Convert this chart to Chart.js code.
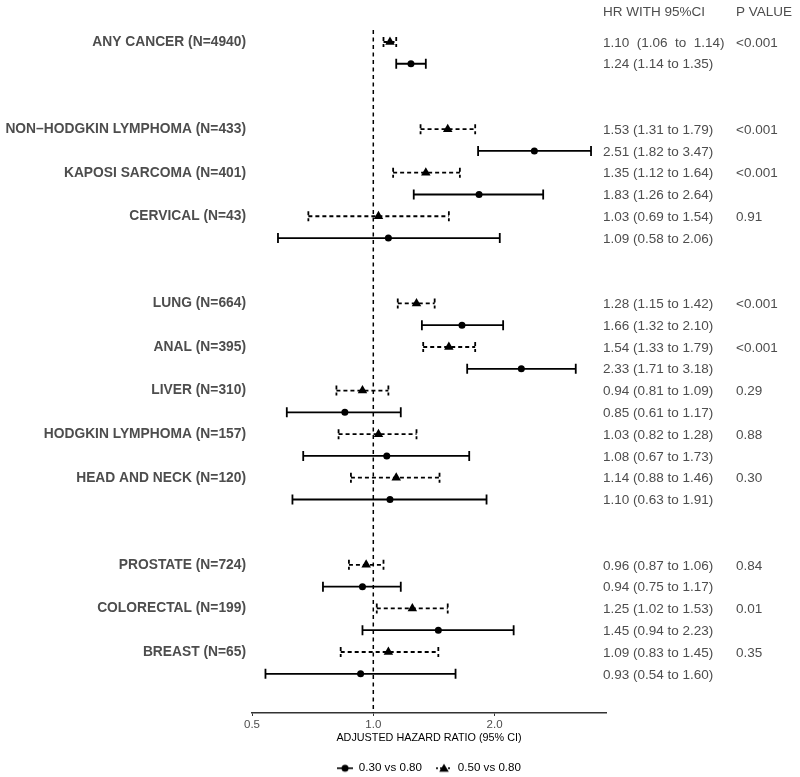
<!DOCTYPE html>
<html>
<head>
<meta charset="utf-8">
<title>Cancer risk forest plot</title>
<script src="https://cdn.jsdelivr.net/npm/chart.js@4.4.1/dist/chart.umd.min.js"></script>
<style>
  html, body { margin: 0; padding: 0; background: #fff; }
  #wrap { width: 800px; height: 777px; }
</style>
</head>
<body>
<div id="wrap"><canvas id="forestChart"></canvas></div>
<script>
// categories and the row each one sits on (0 = top)
const categories = ['ANY CANCER (N=4940)', 'NON\u2013HODGKIN LYMPHOMA (N=433)', 'KAPOSI SARCOMA (N=401)', 'CERVICAL (N=43)',
    'LUNG (N=664)', 'ANAL (N=395)', 'LIVER (N=310)', 'HODGKIN LYMPHOMA (N=157)', 'HEAD AND NECK (N=120)',
    'PROSTATE (N=724)', 'COLORECTAL (N=199)', 'BREAST (N=65)'];
const labelRows = [0, 4, 6, 8, 12, 14, 16, 18, 20, 24, 26, 28];

// 0.50 vs 0.80 (triangles, dashed)
const hr50 = [1.10, 1.53, 1.35, 1.03, 1.28, 1.54, 0.94, 1.03, 1.14, 0.96, 1.25, 1.09];
const lo50 = [1.06, 1.31, 1.12, 0.69, 1.15, 1.33, 0.81, 0.82, 0.88, 0.87, 1.02, 0.83];
const hi50 = [1.14, 1.79, 1.64, 1.54, 1.42, 1.79, 1.09, 1.28, 1.46, 1.06, 1.53, 1.45];

// 0.30 vs 0.80 (circles, solid)
const hr30 = [1.24, 2.51, 1.83, 1.09, 1.66, 2.33, 0.85, 1.08, 1.10, 0.94, 1.45, 0.93];
const lo30 = [1.14, 1.82, 1.26, 0.58, 1.32, 1.71, 0.61, 0.67, 0.63, 0.75, 0.94, 0.54];
const hi30 = [1.35, 3.47, 2.64, 2.06, 2.10, 3.18, 1.17, 1.73, 1.91, 1.17, 2.23, 1.60];

const pValues = ['<0.001', '<0.001', '<0.001', '0.91', '<0.001', '<0.001', '0.29', '0.88', '0.30', '0.84', '0.01', '0.35'];
const xTicks = [0.5, 1.0, 2.0];

const FONT = "'Liberation Sans', Arial, Helvetica, sans-serif";
const GREY = '#4d4d4d';
Chart.defaults.font.family = FONT;

const series = [
    { hr: hr30, lo: lo30, hi: hi30, offset: 1, dash: [] },
    { hr: hr50, lo: lo50, hi: hi50, offset: 0, dash: [4, 3] }
];

function fmt(i, s) {
    const sep = i === 0 && s.offset === 0 ? '  ' : ' ';
    return s.hr[i].toFixed(2) + sep + '(' + s.lo[i].toFixed(2) + sep + 'to' + sep + s.hi[i].toFixed(2) + ')';
}

// legend icons: line + marker
function makeIcon(kind) {
    const c = document.createElement('canvas');
    c.width = 16; c.height = 12;
    const g = c.getContext('2d');
    g.strokeStyle = '#000';
    g.fillStyle = '#000';
    g.lineWidth = 1.6;
    if (kind === 'triangle') g.setLineDash([2, 2]);
    g.beginPath(); g.moveTo(0, 6); g.lineTo(16, 6); g.stroke();
    g.setLineDash([]);
    g.beginPath();
    if (kind === 'circle') {
        g.arc(8, 6, 3.5, 0, Math.PI * 2);
    } else {
        g.moveTo(8, 1.5); g.lineTo(12.8, 9.5); g.lineTo(3.2, 9.5); g.closePath();
    }
    g.fill();
    return c;
}
const icons = [makeIcon('circle'), makeIcon('triangle')];

const forestPlugin = {
    id: 'forest',
    beforeDatasetsDraw(chart) {
        const { ctx, chartArea, scales: { x, y } } = chart;
        ctx.save();
        ctx.strokeStyle = '#000';
        // reference line at HR = 1
        ctx.lineWidth = 1.5;
        ctx.setLineDash([4, 3.5]);
        const x1 = x.getPixelForValue(1);
        ctx.beginPath();
        ctx.moveTo(x1, chartArea.top);
        ctx.lineTo(x1, chartArea.bottom);
        ctx.stroke();
        // confidence intervals
        ctx.lineWidth = 1.8;
        series.forEach(s => {
            ctx.setLineDash(s.dash);
            s.hr.forEach((_, i) => {
                const py = y.getPixelForValue(labelRows[i] + s.offset);
                const xl = x.getPixelForValue(s.lo[i]);
                const xh = x.getPixelForValue(s.hi[i]);
                ctx.beginPath();
                ctx.moveTo(xl, py); ctx.lineTo(xh, py);
                ctx.moveTo(xl, py - 5); ctx.lineTo(xl, py + 5);
                ctx.moveTo(xh, py - 5); ctx.lineTo(xh, py + 5);
                ctx.stroke();
            });
        });
        ctx.restore();
    },
    afterDraw(chart) {
        const { ctx, chartArea, scales: { y } } = chart;
        const hrX = chartArea.right - 3;
        const pX = chartArea.right + 130;
        ctx.save();
        ctx.fillStyle = GREY;
        ctx.font = '13.5px ' + FONT;
        ctx.textBaseline = 'middle';
        ctx.textAlign = 'left';
        ctx.fillText('HR WITH 95%CI', hrX, 12.5);
        ctx.fillText('P VALUE', pX, 12.5);
        categories.forEach((_, i) => {
            series.forEach(s => {
                ctx.fillText(fmt(i, s), hrX, y.getPixelForValue(labelRows[i] + s.offset) + 1);
            });
            ctx.fillText(pValues[i], pX, y.getPixelForValue(labelRows[i]) + 1);
        });
        ctx.restore();
    }
};

new Chart(document.getElementById('forestChart'), {
    type: 'scatter',
    data: {
        datasets: [{
            label: '0.30 vs 0.80',
            data: hr30.map((v, i) => ({ x: v, y: labelRows[i] + 1 })),
            pointStyle: 'circle',
            pointRadius: 3.5,
            backgroundColor: '#000',
            borderColor: '#000',
            borderWidth: 0
        }, {
            label: '0.50 vs 0.80',
            data: hr50.map((v, i) => ({ x: v, y: labelRows[i] })),
            pointStyle: 'triangle',
            pointRadius: 5.5,
            backgroundColor: '#000',
            borderColor: '#000',
            borderWidth: 0
        }]
    },
    options: {
        responsive: true,
        maintainAspectRatio: false,
        animation: false,
        layout: { padding: { top: 30, right: 194, left: 0, bottom: -7 } },
        plugins: {
            tooltip: { enabled: false },
            legend: {
                position: 'bottom',
                fullSize: false,
                labels: {
                    usePointStyle: true,
                    pointStyleWidth: 16,
                    padding: 14,
                    color: '#111',
                    font: { size: 11.6 },
                    generateLabels: chart => chart.data.datasets.map((ds, i) => ({
                        text: ds.label,
                        pointStyle: icons[i],
                        fillStyle: '#000',
                        strokeStyle: '#000',
                        lineWidth: 0,
                        hidden: false,
                        datasetIndex: i
                    }))
                }
            }
        },
        scales: {
            x: {
                type: 'logarithmic',
                min: 0.5,
                max: 3.78,
                afterBuildTicks: s => { s.ticks = xTicks.map(v => ({ value: v })); },
                afterFit: s => { s.height = 35.4; },
                ticks: {
                    callback: v => Number(v).toFixed(1),
                    color: GREY,
                    font: { size: 11.5 },
                    padding: 2,
                    autoSkip: false,
                    maxRotation: 0
                },
                grid: { display: true, drawOnChartArea: false, drawTicks: true, tickLength: 3, color: '#333' },
                border: { display: true, color: '#333', width: 1.5 },
                title: {
                    display: true,
                    text: 'ADJUSTED HAZARD RATIO (95% CI)',
                    color: '#000',
                    font: { size: 10.8 },
                    padding: { top: 0, bottom: 4 }
                }
            },
            y: {
                type: 'linear',
                reverse: true,
                min: -0.55,
                max: 30.8,
                afterBuildTicks: s => { s.ticks = labelRows.map(v => ({ value: v })); },
                afterFit: s => { s.width = 252; },
                ticks: {
                    callback: v => categories[labelRows.indexOf(v)],
                    color: GREY,
                    font: { size: 13.8, weight: 'bold' },
                    padding: 6,
                    autoSkip: false
                },
                grid: { display: false, drawTicks: false },
                border: { display: false }
            }
        }
    },
    plugins: [forestPlugin]
});
</script>
</body>
</html>
